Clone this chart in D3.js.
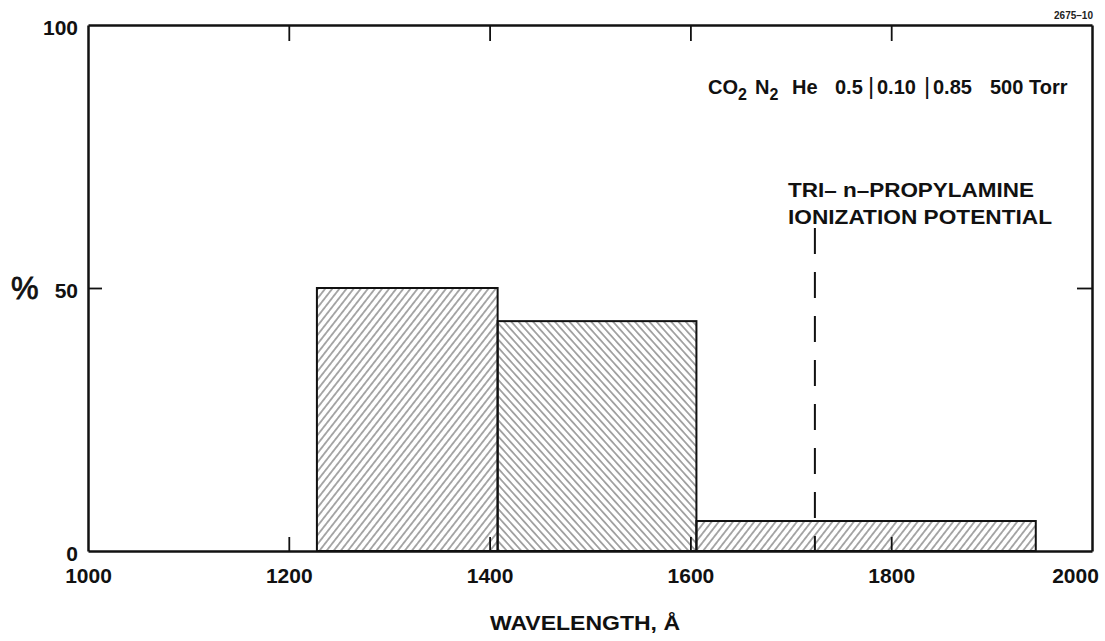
<!DOCTYPE html>
<html>
<head>
<meta charset="utf-8">
<script src="https://cdn.jsdelivr.net/npm/d3@7"></script>
<style>
  html, body { margin: 0; padding: 0; background: #fff; }
  svg { display: block; font-family: "Liberation Sans", Arial, Helvetica, sans-serif; }
</style>
</head>
<body>
<svg id="chart" width="1105" height="641"></svg>
<script>
// Wavelength bins (Å) and the share of emission (%) falling in each
const binStart = [1228, 1408, 1606];
const binEnd   = [1408, 1606, 1944];
const percent  = [50, 43.7, 5.7];

// Axis ticks
const xTicks = [1000, 1200, 1400, 1600, 1800, 2000];
const yTicks = [0, 50, 100];

// Ionization potential of tri-n-propylamine (Å) and top of its marker line (%)
const ionizationWavelength = 1724;
const ionizationMarkerTop = 61.4;

const svg = d3.select("#chart");
const x = d3.scaleLinear().domain([1000, 2000]).range([88, 1092]);
const y = d3.scaleLinear().domain([0, 100]).range([551, 25]);
const fmt = d3.format("d");

// Hatch fills: "/" for the outer bins, "\" for the middle one
const defs = svg.append("defs");
function hatch(id, angle, spacing) {
  const p = defs.append("pattern")
    .attr("id", id)
    .attr("patternUnits", "userSpaceOnUse")
    .attr("width", spacing).attr("height", 40)
    .attr("patternTransform", `rotate(${angle})`);
  p.append("line")
    .attr("x1", spacing / 2).attr("x2", spacing / 2)
    .attr("y1", -5).attr("y2", 45)
    .attr("stroke", "#555").attr("stroke-width", 1);
}
hatch("hatchFwd", 38, 5.6);
hatch("hatchBack", -42, 5.4);

const bars = binStart.map((s, i) => ({ s, e: binEnd[i], v: percent[i], i }));

svg.append("g").selectAll("rect")
  .data(bars)
  .join("rect")
  .attr("x", d => x(d.s))
  .attr("y", d => y(d.v))
  .attr("width", d => x(d.e) - x(d.s))
  .attr("height", d => y(0) - y(d.v))
  .attr("fill", d => d.i === 1 ? "url(#hatchBack)" : "url(#hatchFwd)")
  .attr("stroke", "#111")
  .attr("stroke-width", 2);

// Dashed marker at the ionization potential
svg.append("line")
  .attr("x1", x(ionizationWavelength)).attr("x2", x(ionizationWavelength))
  .attr("y1", y(ionizationMarkerTop)).attr("y2", y(0))
  .attr("stroke", "#111").attr("stroke-width", 2)
  .attr("stroke-dasharray", "26 18");

// Axes forming the frame
const inner = xTicks.filter(t => t > 1000 && t < 2000);

const bottom = svg.append("g")
  .attr("transform", `translate(0,${y(0)})`)
  .call(d3.axisBottom(x).tickValues(xTicks).tickFormat(fmt)
    .tickSizeInner(-14).tickSizeOuter(0).tickPadding(17));
bottom.selectAll(".tick line").attr("display", d => inner.includes(d) ? null : "none");
bottom.selectAll(".tick text")
  .attr("dx", d => d === 2000 ? -17 : 0);

svg.append("g")
  .attr("transform", `translate(0,${y(100)})`)
  .call(d3.axisTop(x).tickValues(inner).tickSizeInner(-16).tickSizeOuter(0).tickFormat(""));

const left = svg.append("g")
  .attr("transform", `translate(${x(1000)},0)`)
  .call(d3.axisLeft(y).tickValues(yTicks).tickFormat(fmt)
    .tickSizeInner(-14).tickSizeOuter(0).tickPadding(10));
left.selectAll(".tick line").attr("display", d => d === 50 ? null : "none");
left.selectAll(".tick text").attr("dy", "0.45em");

svg.append("g")
  .attr("transform", `translate(${x(2000)},0)`)
  .call(d3.axisRight(y).tickValues([50]).tickSizeInner(-15).tickSizeOuter(0).tickFormat(""));

svg.selectAll(".domain").attr("stroke", "#111").attr("stroke-width", 2.5);
svg.selectAll(".tick line").attr("stroke", "#111").attr("stroke-width", 1.8);
svg.selectAll(".tick text")
  .attr("fill", "#111")
  .attr("font-size", 21)
  .attr("font-weight", "bold")
  .attr("font-family", "'Liberation Sans', Arial, sans-serif");

// Axis titles
svg.append("text")
  .attr("x", 11).attr("y", 299)
  .attr("font-size", 31).attr("fill", "#111")
  .attr("stroke", "#111").attr("stroke-width", 0.8)
  .text("%");

svg.append("text")
  .attr("x", 490).attr("y", 630)
  .attr("textLength", 190).attr("lengthAdjust", "spacingAndGlyphs")
  .attr("font-size", 21).attr("font-weight", "bold").attr("fill", "#111")
  .text("WAVELENGTH, Å");

// Figure number
svg.append("text")
  .attr("x", 1093).attr("y", 19).attr("text-anchor", "end")
  .attr("font-size", 10).attr("font-weight", "bold").attr("fill", "#222")
  .text("2675–10");

// Gas mixture note
const note = svg.append("text")
  .attr("y", 94).attr("font-size", 20).attr("font-weight", "bold").attr("fill", "#111");
note.append("tspan").attr("x", 708).text("CO");
note.append("tspan").attr("dy", 6).attr("font-size", 16).text("2");
note.append("tspan").attr("x", 755).attr("y", 94).text("N");
note.append("tspan").attr("dy", 6).attr("font-size", 16).text("2");
note.append("tspan").attr("x", 792).attr("y", 94).text("He");
note.append("tspan").attr("x", 835).text("0.5");
note.append("tspan").attr("x", 868).attr("font-weight", "normal").attr("font-size", 24).text("|");
note.append("tspan").attr("x", 877).text("0.10");
note.append("tspan").attr("x", 924).attr("font-weight", "normal").attr("font-size", 24).text("|");
note.append("tspan").attr("x", 933).text("0.85");
note.append("tspan").attr("x", 990).text("500 Torr");

// Ionization label
svg.append("text")
  .attr("x", 788).attr("y", 197)
  .attr("textLength", 246).attr("lengthAdjust", "spacingAndGlyphs")
  .attr("font-size", 20).attr("font-weight", "bold").attr("fill", "#111")
  .text("TRI– n–PROPYLAMINE");
svg.append("text")
  .attr("x", 788).attr("y", 224)
  .attr("textLength", 264).attr("lengthAdjust", "spacingAndGlyphs")
  .attr("font-size", 20).attr("font-weight", "bold").attr("fill", "#111")
  .text("IONIZATION POTENTIAL");
</script>
</body>
</html>
